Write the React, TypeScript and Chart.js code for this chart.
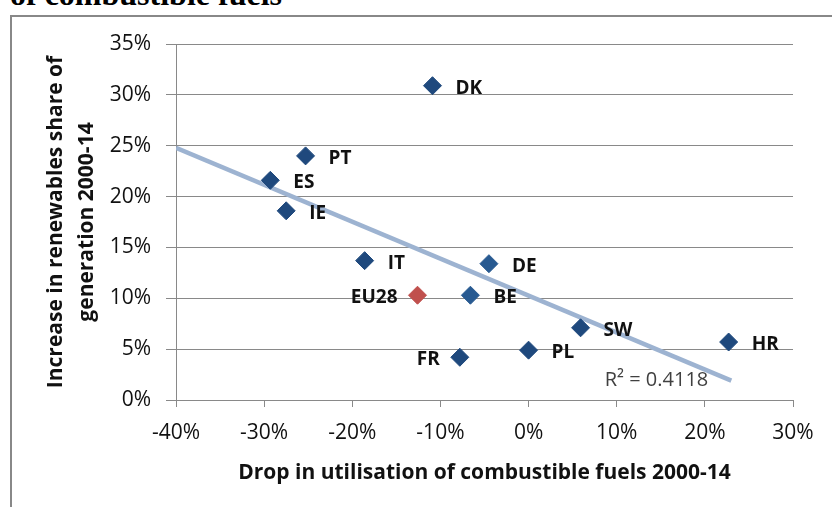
import React, { useEffect, useRef } from "react";
import { Chart, registerables } from "chart.js";

Chart.register(...registerables);

const countries = ["DK", "PT", "ES", "IE", "IT", "DE", "EU28", "BE", "SW", "HR", "PL", "FR"];
const fuelDrop = [-10.9, -25.3, -29.3, -27.5, -18.6, -4.5, -12.6, -6.6, 5.9, 22.7, 0.0, -7.8];
const renewablesRise = [30.9, 24.0, 21.6, 18.6, 13.7, 13.4, 10.3, 10.3, 7.1, 5.7, 4.9, 4.2];
const trendX = [-40, 23.0];
const trendY = [24.8, 1.9];
const rSquaredText = "R\u00B2 = 0.4118";
const xAxisTitle = "Drop in utilisation of combustible fuels 2000-14";
const yAxisTitle = ["Increase in renewables share of", "generation 2000-14"];
const headingFragment = "of combustible fuels";

const FONT = '"Open Sans", sans-serif';
const leftLabelled = ["EU28", "FR"];

function pointColor(name: string) {
  if (name === "EU28") return "#c0504d";
  if (name === "DE" || name === "BE") return "#285a91";
  return "#1f497d";
}

const overlayPlugin = {
  id: "overlay",
  afterDraw(chart: any) {
    const ctx = chart.ctx;
    const area = chart.chartArea;
    ctx.save();
    // point labels
    const meta = chart.getDatasetMeta(0);
    ctx.font = `bold 19px ${FONT}`;
    ctx.fillStyle = "#111";
    ctx.textBaseline = "middle";
    meta.data.forEach((el: any, i: number) => {
      const name = countries[i];
      const { x, y } = el.getProps(["x", "y"], true);
      if (leftLabelled.includes(name)) {
        ctx.textAlign = "right";
        ctx.fillText(name, x - 20, y + 2.5);
      } else {
        ctx.textAlign = "left";
        ctx.fillText(name, x + 23, y + 2.5);
      }
    });
    // R squared
    const tmeta = chart.getDatasetMeta(1);
    const last = tmeta.data[tmeta.data.length - 1];
    if (last) {
      const { x, y } = last.getProps(["x", "y"], true);
      ctx.font = `20px ${FONT}`;
      ctx.fillStyle = "#404040";
      ctx.textAlign = "right";
      ctx.textBaseline = "middle";
      ctx.fillText(rSquaredText, x - 23, y);
    }
    // axis titles
    ctx.fillStyle = "#111";
    ctx.font = `bold 21px ${FONT}`;
    ctx.textAlign = "center";
    ctx.textBaseline = "alphabetic";
    ctx.fillText(xAxisTitle, (area.left + area.right) / 2, 479);
    const cy = (area.top + area.bottom) / 2;
    ctx.translate(0, cy);
    ctx.rotate(-Math.PI / 2);
    ctx.fillText(yAxisTitle[0], 0, 62);
    ctx.fillText(yAxisTitle[1], 0, 93);
    ctx.restore();
  },
};

export default function App() {
  const ref = useRef<HTMLCanvasElement>(null);
  useEffect(() => {
    if (!ref.current) return;
    const chart = new Chart(ref.current, {
      type: "scatter",
      data: {
        datasets: [
          {
            label: "Countries",
            data: fuelDrop.map((x, i) => ({ x, y: renewablesRise[i] })),
            pointStyle: "rectRot",
            pointRadius: 9,
            pointBorderWidth: 1,
            pointBackgroundColor: countries.map(pointColor),
            pointBorderColor: countries.map(pointColor),
            order: 0,
          },
          {
            label: "Trend",
            type: "line",
            data: trendX.map((x, i) => ({ x, y: trendY[i] })),
            borderColor: "#9db3d1",
            borderWidth: 4.5,
            pointRadius: 0,
            showLine: true,
            fill: false,
            order: 1,
          } as any,
        ],
      },
      options: {
        responsive: false,
        animation: false,
        devicePixelRatio: 1,
        layout: { padding: { top: 44, right: 39, left: 0, bottom: 0 } },
        plugins: { legend: { display: false }, tooltip: { enabled: false } },
        scales: {
          x: {
            type: "linear",
            min: -40,
            max: 30,
            afterFit: (s: any) => {
              s.height = 107;
            },
            ticks: {
              stepSize: 10,
              callback: (v: any) => `${v}%`,
              font: { family: FONT, size: 21 },
              color: "#111",
              padding: 13,
              maxRotation: 0,
            },
            grid: { drawOnChartArea: false, drawTicks: true, tickLength: 7, color: "#898989" },
            border: { color: "#898989" },
          },
          y: {
            min: 0,
            max: 35,
            afterFit: (s: any) => {
              s.width = 176;
            },
            ticks: {
              stepSize: 5,
              callback: (v: any) => `${v}%`,
              font: { family: FONT, size: 21 },
              color: "#111",
              padding: 15,
            },
            grid: { drawTicks: true, tickLength: 10, color: "#898989" },
            border: { color: "#898989" },
          },
        },
      },
      plugins: [overlayPlugin],
    });
    return () => chart.destroy();
  }, []);

  return (
    <div
      style={{
        position: "fixed",
        left: 0,
        top: 0,
        width: 832,
        height: 507,
        overflow: "hidden",
        background: "#fff",
      }}
    >
      <div
        style={{
          position: "absolute",
          left: 10,
          top: -22,
          fontFamily: '"Liberation Serif", serif',
          fontWeight: "bold",
          fontSize: 32,
          lineHeight: "32px",
          whiteSpace: "nowrap",
          color: "#000",
        }}
      >
        {headingFragment}
      </div>
      <div
        style={{
          position: "absolute",
          left: 10,
          top: 15,
          width: 840,
          height: 520,
          borderLeft: "2px solid #888",
          borderTop: "2px solid #888",
        }}
      />
      <canvas
        ref={ref}
        width={832}
        height={507}
        style={{ position: "absolute", left: 0, top: 0, width: 832, height: 507 }}
      />
    </div>
  );
}
